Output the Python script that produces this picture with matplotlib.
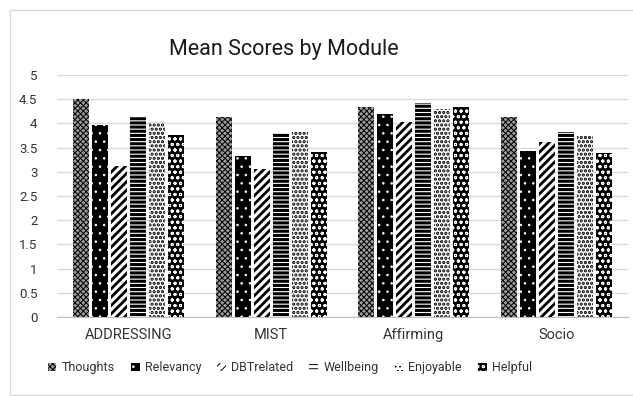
import numpy as np
import matplotlib.pyplot as plt
from matplotlib.patches import Rectangle, Patch

modules = ["ADDRESSING", "MIST", "Affirming", "Socio"]
thoughts = [4.50, 4.13, 4.34, 4.13]
relevancy = [3.97, 3.33, 4.19, 3.43]
dbt_related = [3.12, 3.05, 4.03, 3.62]
wellbeing = [4.13, 3.80, 4.42, 3.82]
enjoyable = [4.03, 3.82, 4.30, 3.74]
helpful = [3.76, 3.41, 4.34, 3.39]
series_names = ["Thoughts", "Relevancy", "DBTrelated", "Wellbeing", "Enjoyable", "Helpful"]
yticks = [0, 0.5, 1, 1.5, 2, 2.5, 3, 3.5, 4, 4.5, 5]

series = [thoughts, relevancy, dbt_related, wellbeing, enjoyable, helpful]
# face, hatch, hatch colour, hatch linewidth
styles = [
    ("#9a9a9a", "xxxxxx", "black", 0.7),
    ("black", "..", "white", 0.6),
    ("white", "////", "black", 2.0),
    ("white", "----", "black", 2.2),
    ("white", "....", "black", 1.6),
    ("black", "ooo", "white", 0.7),
]

plt.rcParams['font.family'] = ['Roboto', 'DejaVu Sans']

fig = plt.figure(figsize=(6.33, 3.96), dpi=100)
ax = fig.add_axes([0.090, 0.1995, 0.902, 0.611])

x = np.arange(len(modules))
step = 0.133
width = 0.112

for i, vals in enumerate(series):
    face, hatch, hcol, hlw = styles[i]
    plt.rcParams['hatch.linewidth'] = hlw
    bars = ax.bar(x + (i - 2.5) * step, vals, width, color=face,
                  edgecolor=hcol, hatch=hatch, linewidth=0, zorder=3)
    for b in bars:
        if hasattr(b, "set_hatch_linewidth"):
            b.set_hatch_linewidth(hlw)

ax.set_xlim(-0.5, 3.5)
ax.set_ylim(0, 5)
ax.set_yticks(yticks)
ax.set_yticklabels([f"{t:g}" for t in yticks], fontsize=9.5, color="#333333")
ax.set_xticks(x)
ax.set_xticklabels(modules, fontsize=10.5, color="#333333")
ax.tick_params(length=0, pad=8)
ax.tick_params(axis="y", pad=14)
ax.grid(axis="y", color="#d9d9d9", linewidth=1, zorder=0)
for s in ["top", "right", "left"]:
    ax.spines[s].set_visible(False)
ax.spines["bottom"].set_color("#bfbfbf")

fig.text(0.449, 0.874, "Mean Scores by Module", ha="center", va="center",
         fontsize=15.5, color="#1a1a1a")

handles = []
for i, name in enumerate(series_names):
    face, hatch, hcol, hlw = styles[i]
    plt.rcParams['hatch.linewidth'] = hlw
    handles.append(Patch(facecolor=face, edgecolor=hcol, hatch=hatch, linewidth=0, label=name))
fig.legend(handles=handles, loc="center", bbox_to_anchor=(0.458, 0.071), ncol=6,
           frameon=False, fontsize=9, handlelength=0.7, handleheight=0.7,
           handletextpad=0.4, columnspacing=1.3, labelcolor="#333333")

fig.patches.append(Rectangle((10 / 633, 1 / 396), 1.0, 1 - 11 / 396,
                             transform=fig.transFigure, fill=False,
                             edgecolor="#d9d9d9", linewidth=1))

plt.savefig("out.png", dpi=100)
